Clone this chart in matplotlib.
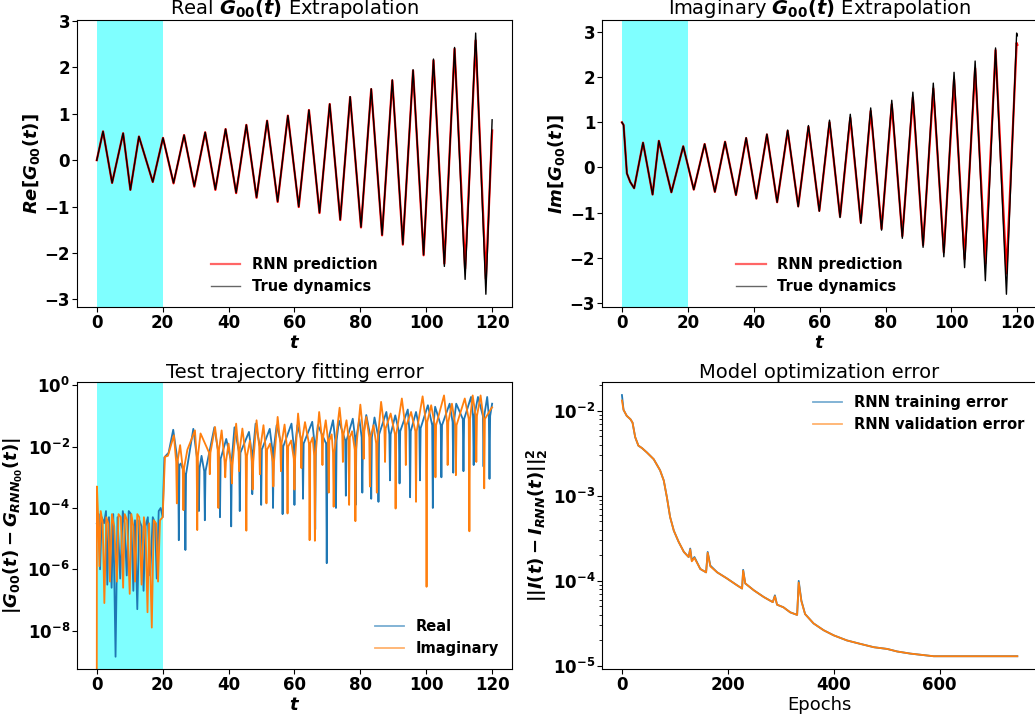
import numpy as np
import matplotlib
matplotlib.use('Agg')
import matplotlib.pyplot as plt

plt.rcParams['font.weight'] = 'bold'
plt.rcParams['axes.labelweight'] = 'bold'

# --- Real part: extrema (t, value) ---
re_t = [0.0, 1.9, 4.65, 8.0, 10.2, 12.8, 17.0, 20.1, 23.3, 26.5, 29.6, 32.9, 36.0,
        39.1, 42.3, 45.4, 48.5, 51.7, 54.9, 58.0, 61.3, 64.4, 67.6, 70.7, 73.9,
        76.9, 80.2, 83.3, 86.6, 89.7, 92.9, 96.0, 99.2, 102.2, 105.5, 108.6,
        111.8, 115.0, 118.1, 120.0]
re_true = [0.0, 0.62, -0.49, 0.58, -0.64, 0.51, -0.47, 0.48, -0.49, 0.54, -0.56,
           0.60, -0.63, 0.67, -0.70, 0.76, -0.80, 0.85, -0.89, 0.96, -1.00, 1.08,
           -1.13, 1.21, -1.28, 1.37, -1.44, 1.54, -1.61, 1.73, -1.81, 1.95, -2.04,
           2.18, -2.29, 2.43, -2.57, 2.74, -2.89, 0.87]
re_rnn = [0.0, 0.62, -0.49, 0.58, -0.64, 0.51, -0.47, 0.48, -0.50, 0.54, -0.57,
          0.60, -0.64, 0.67, -0.71, 0.76, -0.81, 0.85, -0.90, 0.96, -1.01, 1.08,
          -1.14, 1.21, -1.29, 1.36, -1.45, 1.53, -1.62, 1.72, -1.82, 1.93, -2.05,
          2.15, -2.23, 2.40, -2.34, 2.58, -2.56, 0.64]

# --- Imaginary part ---
im_t = [0.0, 0.5, 1.5, 2.5, 3.7, 6.4, 9.3, 11.2, 15.0, 18.6, 21.8, 25.1, 28.2,
        31.3, 34.6, 37.7, 40.8, 44.0, 47.1, 50.3, 53.5, 56.6, 59.9, 63.0, 66.2,
        69.3, 72.5, 75.5, 78.8, 81.9, 85.1, 88.3, 91.4, 94.5, 97.7, 100.8, 104.0,
        107.2, 110.3, 113.4, 116.7, 119.8, 120.0]
im_true = [1.0, 0.94, -0.13, -0.32, -0.46, 0.55, -0.60, 0.59, -0.55, 0.47, -0.49,
           0.52, -0.54, 0.57, -0.61, 0.66, -0.69, 0.74, -0.77, 0.83, -0.87, 0.93,
           -0.97, 1.05, -1.11, 1.18, -1.24, 1.32, -1.39, 1.49, -1.57, 1.67, -1.77,
           1.87, -1.98, 2.11, -2.22, 2.36, -2.51, 2.65, -2.81, 2.98, 2.92]
im_rnn = [1.0, 0.94, -0.13, -0.32, -0.46, 0.55, -0.60, 0.59, -0.55, 0.47, -0.49,
          0.52, -0.54, 0.57, -0.61, 0.65, -0.69, 0.73, -0.77, 0.81, -0.86, 0.90,
          -0.96, 1.00, -1.09, 1.10, -1.22, 1.25, -1.36, 1.40, -1.52, 1.55, -1.72,
          1.75, -1.88, 1.95, -2.03, 2.20, -2.13, 2.60, -2.35, 2.76, 2.72]

# --- Fitting error |G - G_RNN| (log10 values) ---
# training window, real part
trn_re_t = [0.0, 0.6, 1.0, 1.5, 2.2, 2.8, 3.2, 3.7, 4.5, 5.0, 5.7, 6.3, 7.1, 7.9,
            8.4, 9.1, 9.7, 10.4, 11.1, 11.6, 12.3, 12.9, 13.6, 14.2, 14.8, 15.5,
            16.2, 17.0, 17.7, 18.2, 18.8, 19.4, 20.0]
trn_re_log = [-4.5, -4.2, -6.0, -4.3, -4.5, -4.1, -6.5, -4.3, -6.6, -4.2, -8.85,
              -4.3, -6.3, -4.1, -4.5, -6.2, -4.1, -4.2, -6.7, -4.4, -7.3, -4.4,
              -4.6, -6.7, -4.6, -4.3, -6.2, -4.3, -4.5, -6.3, -4.1, -4.0, -4.3]
# extrapolation, real part: hump tops
hump_re_t = [20.5, 21.8, 23.2, 25.5, 29.3, 31.8, 35.7, 39.3, 41.8, 46.2, 48.2,
             52.5, 54.6, 59.1, 60.9, 65.4, 67.1, 71.7, 73.5, 77.7, 79.7, 81.8,
             84.3, 87.9, 90.6, 94.4, 96.9, 100.5, 102.7, 107.1, 109.1, 113.6,
             115.7, 118.5, 120.0]
hump_re_log = [-2.35, -2.2, -1.45, -2.55, -1.42, -2.3, -1.37, -1.75, -1.37, -1.52,
               -1.25, -1.42, -1.3, -1.25, -1.3, -1.19, -1.3, -1.14, -1.15, -1.09,
               -1.1, -0.97, -1.05, -0.87, -0.98, -0.79, -0.87, -0.65, -0.7, -0.6,
               -0.6, -0.38, -0.38, -0.38, -0.6]
# extrapolation, real part: sharp dips (position, level where the dip starts, bottom)
dip_re_t = [24.9, 26.9, 31.0, 32.8, 37.4, 40.8, 43.4, 47.2, 49.9, 53.5, 56.4, 60.0,
            62.6, 66.3, 69.8, 72.6, 75.6, 78.6, 80.6, 83.3, 85.5, 89.0, 91.9, 95.1,
            98.1, 102.0, 104.6, 108.2, 111.3, 114.4, 117.4, 119.2]
dip_re_top = [-2.6, -2.9, -2.7, -2.8, -2.4, -2.4, -2.2, -2.2, -2.1, -2.1, -2.0,
              -2.0, -1.9, -1.9, -1.9, -1.8, -1.8, -1.7, -1.7, -1.7, -1.6, -1.6,
              -1.5, -1.5, -1.4, -1.3, -1.3, -1.2, -1.1, -1.0, -1.0, -1.0]
dip_re_log = [-5.05, -5.37, -4.1, -4.4, -4.3, -4.6, -4.1, -3.55, -3.9, -4.0, -4.2,
              -3.9, -3.7, -4.7, -5.8, -4.0, -3.6, -3.9, -3.5, -3.7, -3.8, -3.1,
              -3.2, -3.65, -3.1, -4.0, -3.0, -2.85, -2.8, -2.6, -2.65, -3.05]

# training window, imaginary part
trn_im_t = [0.0, 0.05, 0.5, 0.8, 1.2, 1.8, 2.3, 2.9, 3.5, 4.0, 4.6, 5.3, 6.1, 6.6,
            7.3, 8.0, 8.5, 9.2, 10.0, 10.5, 11.1, 11.6, 12.3, 12.9, 13.6, 14.3,
            14.8, 15.4, 15.9, 16.7, 17.3, 18.0, 18.6, 19.2, 20.0]
trn_im_log = [-9.6, -3.3, -4.5, -5.9, -4.1, -4.5, -7.1, -4.3, -4.5, -6.4, -4.2,
              -4.6, -6.4, -4.2, -4.3, -6.6, -4.2, -4.4, -6.8, -4.2, -4.6, -6.4,
              -4.2, -4.3, -6.5, -4.3, -4.7, -7.4, -4.5, -7.9, -4.4, -4.5, -6.4,
              -4.4, -4.3]
hump_im_t = [20.7, 21.6, 23.4, 25.3, 27.5, 29.8, 31.5, 35.9, 37.9, 40.0, 42.3,
             44.2, 46.5, 48.5, 50.6, 52.6, 54.9, 57.0, 59.0, 61.1, 63.2, 65.5,
             67.5, 69.5, 71.3, 73.7, 75.8, 77.5, 80.0, 81.8, 84.0, 86.3, 89.2,
             92.6, 95.4, 98.9, 101.5, 105.4, 107.8, 111.7, 114.1, 116.5, 119.7,
             120.0]
hump_im_log = [-2.33, -2.3, -1.63, -1.95, -2.1, -1.47, -1.57, -1.36, -1.47, -1.9,
               -1.25, -1.41, -1.8, -1.14, -1.30, -1.9, -1.03, -1.28, -1.8, -0.92,
               -1.2, -1.7, -0.87, -1.14, -1.6, -0.73, -1.14, -1.5, -0.63, -1.03,
               -1.3, -0.54, -0.92, -0.43, -0.87, -0.36, -0.65, -0.33, -0.6, -0.43,
               -0.33, -0.33, -0.76, -0.72]
dip_im_t = [24.3, 26.3, 30.5, 34.3, 36.9, 39.0, 41.0, 43.2, 45.4, 47.3, 49.5, 51.5,
            53.6, 55.9, 57.9, 60.0, 62.1, 64.6, 66.2, 68.5, 70.4, 71.9, 74.7, 76.6,
            78.5, 81.0, 82.9, 85.0, 87.5, 90.7, 93.8, 96.9, 100.1, 102.8, 106.5,
            109.0, 113.1, 115.2, 117.6]
dip_im_top = [-2.5, -2.7, -2.3, -2.2, -2.1, -2.5, -2.6, -2.1, -2.3, -2.5, -2.0,
              -2.1, -2.5, -1.9, -2.0, -2.4, -1.8, -1.9, -2.3, -1.7, -1.8, -2.2,
              -1.6, -1.7, -2.1, -1.5, -1.7, -1.9, -1.4, -1.6, -1.3, -1.5, -1.2,
              -1.3, -1.2, -1.3, -1.1, -1.0, -1.1]
dip_im_log = [-3.85, -4.07, -4.72, -2.9, -4.0, -3.0, -3.2, -2.8, -4.74, -3.4, -2.9,
              -3.85, -3.3, -2.8, -4.18, -3.4, -2.7, -5.05, -5.07, -2.6, -3.5, -3.96,
              -2.5, -3.9, -4.43, -2.4, -3.3, -3.5, -2.5, -4.02, -2.6, -3.8, -6.57,
              -3.0, -2.6, -2.93, -4.76, -2.5, -3.36]

# --- Optimisation error (log10 values) ---
epochs = [0, 3, 9, 16, 20, 25, 31, 38, 47, 60, 72, 79, 85, 91, 98, 107, 117, 126,
          129, 132, 137, 148, 159, 162, 167, 180, 198, 217, 227, 229, 233, 249,
          268, 285, 289, 293, 305, 318, 331, 334, 339, 346, 362, 381, 400, 425,
          450, 476, 501, 520, 545, 589, 747]
train_log = [-1.816, -1.99, -2.06, -2.10, -2.14, -2.31, -2.41, -2.44, -2.49, -2.57,
             -2.70, -2.82, -3.02, -3.25, -3.41, -3.54, -3.66, -3.72, -3.62, -3.76,
             -3.72, -3.86, -3.90, -3.66, -3.82, -3.90, -3.97, -4.05, -4.09, -3.87,
             -4.03, -4.11, -4.19, -4.25, -4.17, -4.28, -4.31, -4.37, -4.40, -4.00,
             -4.23, -4.39, -4.50, -4.58, -4.64, -4.70, -4.74, -4.78, -4.80, -4.83,
             -4.855, -4.886, -4.886]
valid_log = [-1.88, -1.99, -2.06, -2.10, -2.14, -2.31, -2.41, -2.44, -2.49, -2.57,
             -2.70, -2.82, -3.02, -3.25, -3.41, -3.54, -3.66, -3.72, -3.63, -3.77,
             -3.73, -3.86, -3.90, -3.67, -3.83, -3.90, -3.97, -4.05, -4.09, -3.88,
             -4.03, -4.11, -4.19, -4.25, -4.18, -4.28, -4.31, -4.37, -4.40, -4.02,
             -4.24, -4.39, -4.50, -4.58, -4.64, -4.70, -4.74, -4.78, -4.80, -4.83,
             -4.855, -4.886, -4.886]


def error_curve(trn_t, trn_log, hump_t, hump_log, dip_t, dip_top, dip_log, w=0.2):
    # join training points, hump tops and narrow dips into one polyline
    pts = list(zip(trn_t, trn_log)) + list(zip(hump_t, hump_log))
    for t, top, bot in zip(dip_t, dip_top, dip_log):
        pts += [(t - w, top), (t, bot), (t + w, top)]
    pts.sort(key=lambda p: p[0])
    t = np.array([p[0] for p in pts])
    y = 10 ** np.array([p[1] for p in pts])
    return t, y


fig, axs = plt.subplots(2, 2, figsize=(10.35, 7.14), dpi=100)
fig.subplots_adjust(left=0.0744, right=1.002, top=0.972, bottom=0.0626,
                    wspace=0.2076, hspace=0.26)

tick_fs = 12
label_fs = 13
title_fs = 14
leg_fs = 10.5

# Real part
ax = axs[0, 0]
ax.axvspan(0, 20, color='cyan', alpha=0.5, lw=0)
ax.plot(re_t, re_rnn, color='red', lw=1.6, label='RNN prediction')
ax.plot(re_t, re_true, color='black', lw=1.0, label='True dynamics')
ax.set_title(r'Real $\boldsymbol{G_{00}(t)}$ Extrapolation', fontsize=title_fs,
             fontweight='normal', pad=1)
ax.set_xlabel(r'$\boldsymbol{t}$', fontsize=label_fs, labelpad=1)
ax.set_ylabel(r'$\boldsymbol{Re[G_{00}(t)]}$', fontsize=label_fs, labelpad=2)
ax.legend(loc='lower center', frameon=False, fontsize=leg_fs)

# Imaginary part
ax = axs[0, 1]
ax.axvspan(0, 20, color='cyan', alpha=0.5, lw=0)
ax.plot(im_t, im_rnn, color='red', lw=1.6, label='RNN prediction')
ax.plot(im_t, im_true, color='black', lw=1.0, label='True dynamics')
ax.set_title(r'Imaginary $\boldsymbol{G_{00}(t)}$ Extrapolation', fontsize=title_fs,
             fontweight='normal', pad=1)
ax.set_xlabel(r'$\boldsymbol{t}$', fontsize=label_fs, labelpad=1)
ax.set_ylabel(r'$\boldsymbol{Im[G_{00}(t)]}$', fontsize=label_fs, labelpad=2)
ax.legend(loc='lower center', frameon=False, fontsize=leg_fs)

# Fitting error
ax = axs[1, 0]
ax.axvspan(0, 20, color='cyan', alpha=0.5, lw=0)
t_re, e_re = error_curve(trn_re_t, trn_re_log, hump_re_t, hump_re_log,
                         dip_re_t, dip_re_top, dip_re_log)
t_im, e_im = error_curve(trn_im_t, trn_im_log, hump_im_t, hump_im_log,
                         dip_im_t, dip_im_top, dip_im_log)
ax.semilogy(t_re, e_re, color='C0', lw=1.3, label='Real')
ax.semilogy(t_im, e_im, color='C1', lw=1.3, label='Imaginary')
ax.set_ylim(5.5e-10, 1.28)
ax.set_title('Test trajectory fitting error', fontsize=title_fs, fontweight='normal', pad=1)
ax.set_xlabel(r'$\boldsymbol{t}$', fontsize=label_fs, labelpad=1)
ax.set_ylabel(r'$\boldsymbol{|G_{00}(t) - G_{RNN_{00}}(t)|}$', fontsize=label_fs, labelpad=2)
ax.legend(loc='lower right', frameon=False, fontsize=leg_fs)

# Optimisation error
ax = axs[1, 1]
ax.semilogy(epochs, 10 ** np.array(train_log), color='C0', lw=1.3, label='RNN training error')
ax.semilogy(epochs, 10 ** np.array(valid_log), color='C1', lw=1.3, label='RNN validation error')
ax.set_title('Model optimization error', fontsize=title_fs, fontweight='normal', pad=1)
ax.set_xlabel('Epochs', fontsize=label_fs, fontweight='normal', labelpad=1)
ax.set_ylabel(r'$\boldsymbol{||I(t) - I_{RNN}(t)||_2^2}$', fontsize=label_fs, labelpad=2)
ax.legend(loc='upper right', frameon=False, fontsize=leg_fs)

for a in axs.flat:
    a.tick_params(labelsize=tick_fs, pad=1.5)
    for h in a.get_legend().legend_handles:
        h.set_alpha(0.6)

fig.savefig('out.png', dpi=100)
